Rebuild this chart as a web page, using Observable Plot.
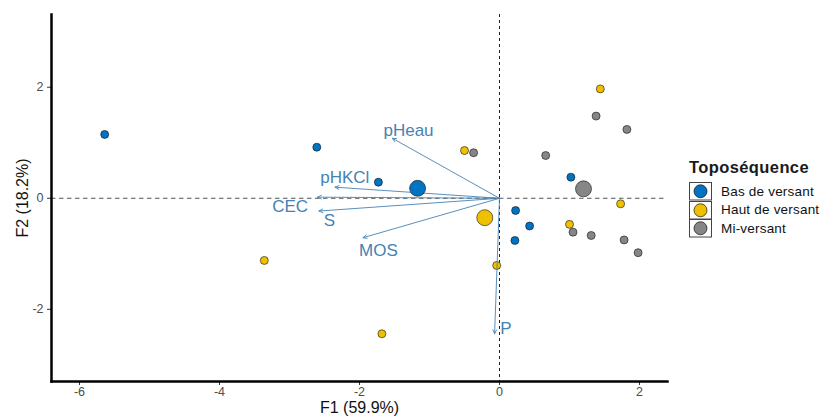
<!DOCTYPE html>
<html><head><meta charset="utf-8">
<script src="https://cdn.jsdelivr.net/npm/d3@7"></script>
<script src="https://cdn.jsdelivr.net/npm/@observablehq/plot@0.6"></script>
<style>
body{margin:0;background:#fff;font-family:"Liberation Sans",Arial,sans-serif;}
#wrap{position:relative;width:822px;height:417px;}
#legend{position:absolute;left:689px;top:158px;color:#111;}
#legend .title{font-size:16.5px;font-weight:bold;margin-bottom:5px;letter-spacing:0.4px;color:#1a1a1a;}
#legend .row{display:flex;align-items:center;height:18.5px;}
#legend .row svg{display:block;}
#legend .row span{font-size:13.5px;margin-left:9px;letter-spacing:0.2px;}
</style></head><body><div id="wrap"></div>
<script>
const groups = ["Bas de versant", "Haut de versant", "Mi-versant"];
const groupColors = ["#0073C2", "#EFC000", "#868686"];

// individuals (F1, F2) by group
const indGroup = [
  "Bas de versant","Bas de versant","Bas de versant","Bas de versant","Bas de versant","Bas de versant","Bas de versant",
  "Haut de versant","Haut de versant","Haut de versant","Haut de versant","Haut de versant","Haut de versant","Haut de versant",
  "Mi-versant","Mi-versant","Mi-versant","Mi-versant","Mi-versant","Mi-versant","Mi-versant","Mi-versant"
];
const indF1 = [-5.64, -2.61, -1.73, 0.23, 0.43, 0.22, 1.02,
               -3.36, -1.68, -0.50, -0.04, 1.44, 1.00, 1.73,
               -0.37, 0.66, 1.38, 1.82, 1.05, 1.31, 1.78, 1.98];
const indF2 = [1.15, 0.92, 0.29, -0.22, -0.50, -0.76, 0.38,
               -1.12, -2.44, 0.86, -1.21, 1.97, -0.47, -0.10,
               0.82, 0.77, 1.48, 1.24, -0.61, -0.67, -0.75, -0.98];

// group mean points
const meanF1 = [-1.17, -0.21, 1.20];
const meanF2 = [0.18, -0.35, 0.17];

// variables (arrows)
const vars = ["pHeau", "pHKCl", "CEC", "S", "MOS", "P"];
const varF1 = [-1.53, -2.35, -2.60, -2.58, -1.95, -0.07];
const varF2 = [1.08, 0.20, 0.02, -0.23, -0.71, -2.44];
const labF1 = [-1.30, -2.21, -2.99, -2.43, -1.73, 0.09];
const labF2 = [1.22, 0.38, -0.14, -0.40, -0.94, -2.34];

const xTicks = [-6, -4, -2, 0, 2];
const yTicks = [-2, 0, 2];

const ind = indF1.map((x, i) => ({x, y: indF2[i], g: indGroup[i]}));
const means = meanF1.map((x, i) => ({x, y: meanF2[i], g: groups[i]}));
const arrows = vars.map((v, i) => ({v, x: varF1[i], y: varF2[i], lx: labF1[i], ly: labF2[i]}));

const varColor = "#4682B4";
const fmt = d => String(d);

const plot = Plot.plot({
  width: 822, height: 417,
  marginLeft: 51, marginRight: 155, marginTop: 14, marginBottom: 36,
  x: {domain: [-6.4, 2.4]},
  y: {domain: [-3.3, 3.31]},
  color: {domain: groups, range: groupColors},
  style: {fontFamily: "'Liberation Sans', Arial, sans-serif", background: "white", overflow: "visible"},
  marks: [
    Plot.ruleY([0], {stroke: "#555", strokeDasharray: "4.5,3.5", strokeWidth: 1.1}),
    Plot.ruleX([0], {stroke: "#222", strokeDasharray: "3,3", strokeWidth: 1}),
    Plot.dot(ind, {x: "x", y: "y", fill: "g", stroke: "#111", strokeWidth: 0.6, r: 4}),
    Plot.arrow(arrows, {x1: () => 0, y1: () => 0, x2: "x", y2: "y", stroke: varColor, strokeWidth: 0.9, headLength: 7, headAngle: 50}),
    Plot.text(arrows, {x: "lx", y: "ly", text: "v", fill: varColor, fontSize: 17, textAnchor: "middle"}),
    Plot.dot(means, {x: "x", y: "y", fill: "g", stroke: "#111", strokeWidth: 0.6, r: 8}),
    Plot.axisX({ticks: xTicks, tickFormat: fmt, tickSize: 4, tickPadding: 2, stroke: "#333", color: "#4d4d4d", fontSize: 12.5,
      label: "F1 (59.9%)", labelAnchor: "center", labelArrow: "none", labelOffset: 31}),
    Plot.axisY({ticks: yTicks, tickFormat: fmt, tickSize: 4, tickPadding: 4, stroke: "#333", color: "#4d4d4d", fontSize: 12.5,
      label: "F2 (18.2%)", labelAnchor: "center", labelArrow: "none", labelOffset: 35}),
    Plot.frame({anchor: "left", stroke: "black", strokeWidth: 2.5}),
    Plot.frame({anchor: "bottom", stroke: "black", strokeWidth: 2.5})
  ]
});

d3.select(plot).selectAll('g[aria-label="x-axis label"] text, g[aria-label="y-axis label"] text')
  .attr("font-size", 16).attr("fill", "#111");

const wrap = document.getElementById("wrap");
wrap.appendChild(plot);

// legend
const leg = document.createElement("div");
leg.id = "legend";
let html = '<div class="title">Toposéquence</div>';
groups.forEach((g, i) => {
  html += `<div class="row"><svg width="23" height="18.5"><rect x="0.5" y="0.5" width="22" height="17.5" fill="white" stroke="#444" stroke-width="1"/><circle cx="11.5" cy="9.25" r="6.5" fill="${groupColors[i]}" stroke="#111" stroke-width="0.7"/></svg><span>${g}</span></div>`;
});
leg.innerHTML = html;
wrap.appendChild(leg);
</script></body></html>
